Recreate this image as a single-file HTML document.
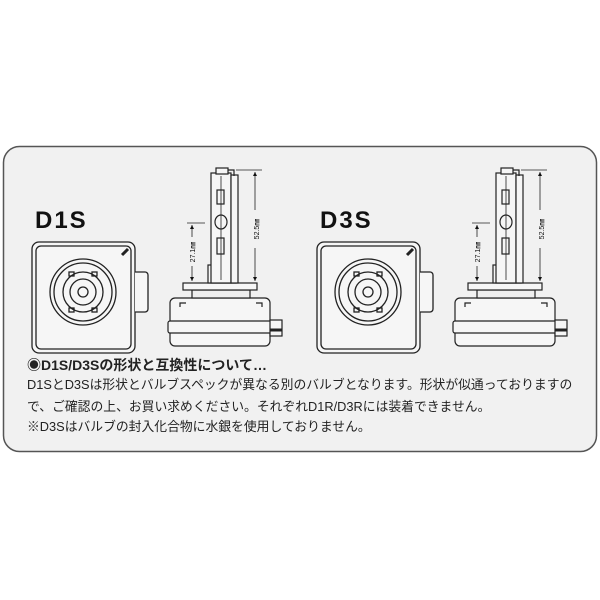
<!DOCTYPE html>
<html><head><meta charset="utf-8"><style>
body{margin:0;width:600px;height:600px;background:#fff;overflow:hidden}
svg{position:absolute;left:0;top:0}
.t{position:absolute;left:27px;font-family:"Liberation Sans","Noto Sans CJK JP",sans-serif;color:#222;font-size:12.8px;white-space:nowrap;line-height:1}
</style></head><body>
<svg width="600" height="600" viewBox="0 0 600 600">
<defs>
<marker id="ar" viewBox="0 0 10 10" refX="10" refY="5" markerWidth="5" markerHeight="7" orient="auto-start-reverse"><path d="M0,0L10,5L0,10z" fill="#111"/></marker>
<g id="sq" fill="none" stroke="#222" stroke-width="1.3">
<rect x="32" y="242" width="103" height="111" rx="7" fill="#f6f6f6"/>
<rect x="36" y="246" width="95" height="103" rx="5" fill="#f6f6f6"/>
<path d="M135,272h10a3,3 0 0 1 3,3v34a3,3 0 0 1-3,3h-10" fill="#f6f6f6"/>
<circle cx="83" cy="292" r="33"/>
<circle cx="83" cy="292" r="29"/>
<circle cx="83" cy="292" r="20"/>
<circle cx="83" cy="292" r="13"/>
<circle cx="83" cy="292" r="5"/>
<rect x="69" y="272" width="5" height="4"/><rect x="92" y="272" width="5" height="4"/>
<rect x="69" y="308" width="5" height="4"/><rect x="92" y="308" width="5" height="4"/>
<line x1="122" y1="255" x2="128" y2="249" stroke-width="3"/>
</g>
<g id="bulb" fill="#f6f6f6" stroke="#222" stroke-width="1.2">
<rect x="170" y="298" width="100" height="48" rx="5"/>
<rect x="168" y="321" width="104" height="12" rx="2"/>
<rect x="270" y="320" width="12" height="16"/>
<line x1="270" y1="330" x2="282" y2="330" stroke-width="3"/>
<path d="M180,307v-4h6M262,307v-4h-6" fill="none"/>
<rect x="192" y="290" width="58" height="8" fill="#eee"/>
<rect x="183" y="283" width="74" height="7"/>
<rect x="208" y="265" width="28" height="18"/>
<rect x="211" y="173" width="20" height="110"/>
<rect x="231" y="175" width="7" height="108"/>
<rect x="216" y="168" width="12" height="6"/>
<path d="M228,170h6v6" fill="none"/>
<rect x="217" y="190" width="7" height="14"/>
<ellipse cx="221" cy="222" rx="6" ry="7"/>
<rect x="217" y="238" width="7" height="16"/>
<line x1="221" y1="176" x2="221" y2="280" stroke-width="0.8"/>
</g>
<g id="dim" stroke="#222" stroke-width="0.8" fill="none">
<line x1="236" y1="170" x2="262" y2="170"/>
<line x1="255" y1="172" x2="255" y2="210" marker-start="url(#ar)"/>
<line x1="255" y1="248" x2="255" y2="281" marker-end="url(#ar)"/>
<line x1="187" y1="223" x2="205" y2="223"/>
<line x1="192" y1="225" x2="192" y2="237" marker-start="url(#ar)"/>
<line x1="192" y1="266" x2="192" y2="281" marker-end="url(#ar)"/>
</g>
</defs>
<rect x="3.5" y="146.5" width="593" height="305" rx="16" fill="#f1f1f1" stroke="#555" stroke-width="1.5"/>
<use href="#sq"/><use href="#bulb"/><use href="#dim"/>
<g transform="translate(285,0)"><use href="#sq"/><use href="#bulb"/><use href="#dim"/></g>
<g font-family="Liberation Sans,sans-serif" fill="#111">
<text x="35" y="228" font-size="24" font-weight="bold" letter-spacing="2">D1S</text>
<text x="320" y="228" font-size="24" font-weight="bold" letter-spacing="2">D3S</text>
<text font-size="7" transform="translate(259,229) rotate(-90)" text-anchor="middle">52.5㎜</text>
<text font-size="7" transform="translate(195,252) rotate(-90)" text-anchor="middle">27.1㎜</text>
<text font-size="7" transform="translate(544,229) rotate(-90)" text-anchor="middle">52.5㎜</text>
<text font-size="7" transform="translate(480,252) rotate(-90)" text-anchor="middle">27.1㎜</text>
</g>
</svg>
<div class="t" style="top:358px;font-weight:bold;font-size:14px">◉D1S/D3Sの形状と互換性について…</div>
<div class="t" style="top:379px">D1SとD3Sは形状とバルブスペックが異なる別のバルブとなります。形状が似通っておりますの</div>
<div class="t" style="top:401px">で、ご確認の上、お買い求めください。それぞれD1R/D3Rには装着できません。</div>
<div class="t" style="top:421px">※D3Sはバルブの封入化合物に水銀を使用しておりません。</div>
</body></html>
